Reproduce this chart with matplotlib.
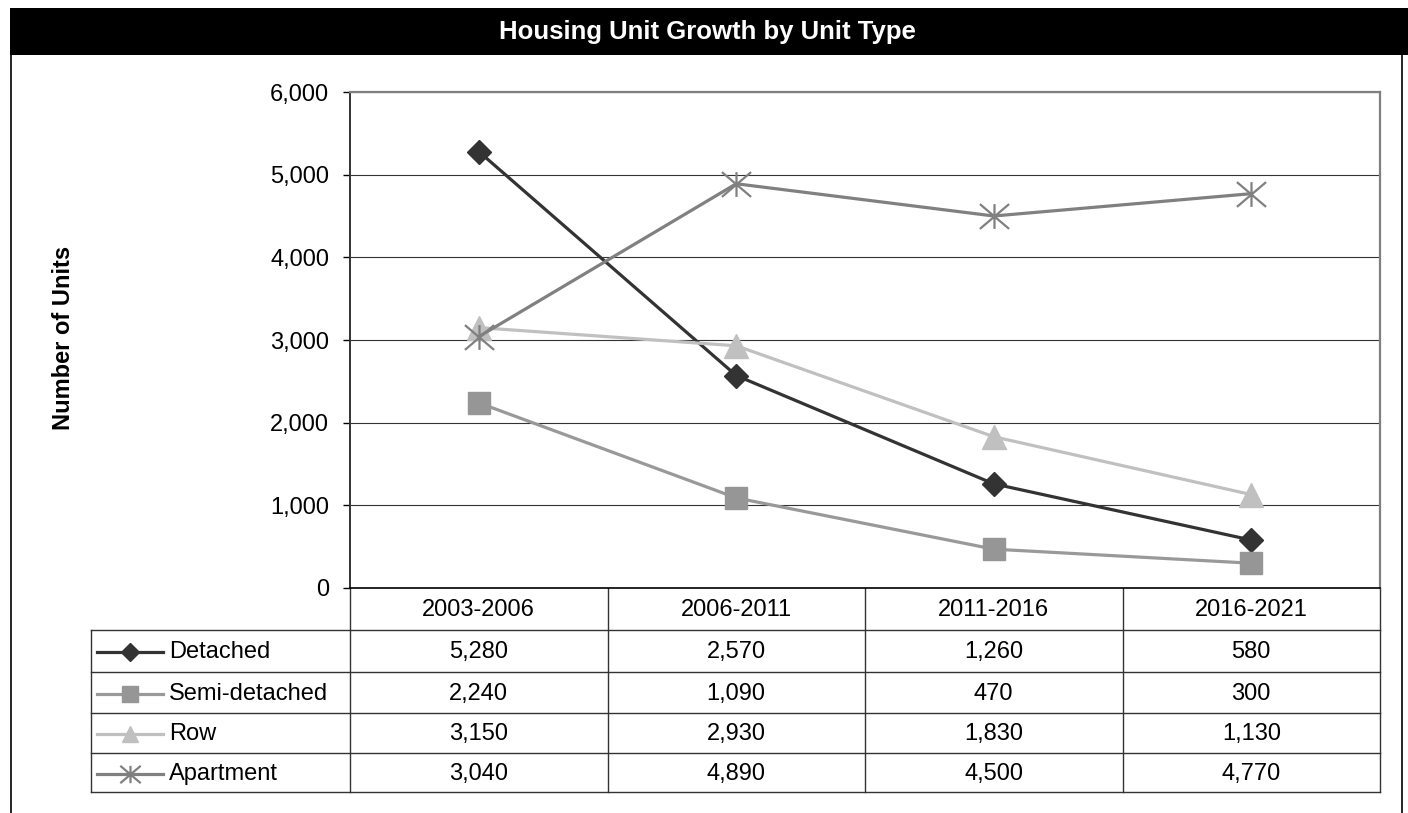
import matplotlib
matplotlib.use("Agg")
import matplotlib.pyplot as plt
from matplotlib.path import Path
from matplotlib.patches import Rectangle
from matplotlib.lines import Line2D
from matplotlib.ticker import FuncFormatter

plt.rcParams['font.family'] = ['Liberation Sans', 'DejaVu Sans']

# Data
periods = ["2003-2006", "2006-2011", "2011-2016", "2016-2021"]
unit_types = ["Detached", "Semi-detached", "Row", "Apartment"]
detached = [5280, 2570, 1260, 580]
semi_detached = [2240, 1090, 470, 300]
row = [3150, 2930, 1830, 1130]
apartment = [3040, 4890, 4500, 4770]
series_values = [detached, semi_detached, row, apartment]
y_ticks = [0, 1000, 2000, 3000, 4000, 5000, 6000]

# Asterisk marker: a vertical stroke crossed by two diagonals
star_path = Path(
    [(0, -0.85), (0, 0.85), (-1, -0.85), (1, 0.85), (-1, 0.85), (1, -0.85)],
    [Path.MOVETO, Path.LINETO, Path.MOVETO, Path.LINETO, Path.MOVETO, Path.LINETO],
)

styles = [
    dict(color="#333333", marker="D", markersize=12.5, markerfacecolor="#333333",
         markeredgecolor="#333333", markeredgewidth=1),
    dict(color="#999999", marker="s", markersize=16.5, markerfacecolor="#969696",
         markeredgecolor="#969696", markeredgewidth=1),
    dict(color="#C0C0C0", marker="^", markersize=17, markerfacecolor="#C0C0C0",
         markeredgecolor="#C0C0C0", markeredgewidth=1),
    dict(color="#808080", marker=star_path, markersize=21, markerfacecolor="none",
         markeredgecolor="#808080", markeredgewidth=1.6),
]
LW = 2.3
FS = 17

W, H = 1408, 813
fig = plt.figure(figsize=(W / 100, H / 100), dpi=100)

# Pixel-space overlay for the frame, title bar and data table
bg = fig.add_axes([0, 0, 1, 1], zorder=0)
bg.set_xlim(0, W)
bg.set_ylim(H, 0)
bg.axis("off")

bg.add_patch(Rectangle((10, 8), W - 10, 47, facecolor="black", edgecolor="none"))
bg.text(707, 31.5, "Housing Unit Growth by Unit Type", color="white",
        fontsize=18.5, fontweight="bold", ha="center", va="center")
bg.plot([11, 11], [55, H], color="black", lw=1.2)
bg.plot([1402, 1402], [55, H], color="black", lw=1.2)

# Chart axes
x0, x1, y0, y1 = 350, 1380, 92, 588
ax = fig.add_axes([x0 / W, 1 - y1 / H, (x1 - x0) / W, (y1 - y0) / H], zorder=2)
xs = list(range(len(periods)))
for vals, st in zip(series_values, styles):
    ax.plot(xs, vals, lw=LW, solid_joinstyle="round", clip_on=False, zorder=3, **st)

ax.set_xlim(-0.5, len(periods) - 0.5)
ax.set_ylim(y_ticks[0], y_ticks[-1])
ax.set_yticks(y_ticks)
ax.yaxis.set_major_formatter(FuncFormatter(lambda v, p: f"{int(v):,}"))
ax.tick_params(axis="y", direction="out", length=5, width=1, pad=10,
               labelsize=FS, colors="black")
ax.set_xticks([])
ax.grid(axis="y", color="#333333", lw=0.8)
ax.set_axisbelow(True)
for side in ("top", "right"):
    ax.spines[side].set_color("#808080")
    ax.spines[side].set_linewidth(1.6)
ax.spines["left"].set_color("#333333")
ax.spines["left"].set_linewidth(1.4)
ax.spines["bottom"].set_color("black")
ax.spines["bottom"].set_linewidth(1.2)

fig.text(63 / W, 1 - 338 / H, "Number of Units", rotation=90, fontsize=FS,
         fontweight="bold", ha="center", va="center")

# Data table below the chart
col_edges = [x0 + i * (x1 - x0) / len(periods) for i in range(len(periods) + 1)]
row_edges = [588, 630, 672, 713, 753, 792]
tleft = 91
line_kw = dict(color="#333333", lw=1.0)

for xe in col_edges:
    bg.plot([xe, xe], [row_edges[0], row_edges[-1]], **line_kw)
bg.plot([tleft, tleft], [row_edges[1], row_edges[-1]], **line_kw)
for ye in row_edges[1:]:
    bg.plot([tleft, x1], [ye, ye], **line_kw)

for j, per in enumerate(periods):
    cx = (col_edges[j] + col_edges[j + 1]) / 2
    bg.text(cx, (row_edges[0] + row_edges[1]) / 2 + 1, per, fontsize=FS,
            ha="center", va="center")

for i, (name, vals, st) in enumerate(zip(unit_types, series_values, styles)):
    cy = (row_edges[i + 1] + row_edges[i + 2]) / 2 + 1
    bg.add_line(Line2D([97, 163], [cy, cy], lw=LW, color=st["color"]))
    mk = {k: v for k, v in st.items() if k != "color"}
    mk["markersize"] = st["markersize"] * 0.7
    bg.add_line(Line2D([130], [cy], linestyle="none", **mk))
    bg.text(169, cy, name, fontsize=FS, ha="left", va="center")
    for j, v in enumerate(vals):
        cx = (col_edges[j] + col_edges[j + 1]) / 2
        bg.text(cx, cy, f"{v:,}", fontsize=FS, ha="center", va="center")

fig.savefig("out.png", dpi=100, facecolor="white")
